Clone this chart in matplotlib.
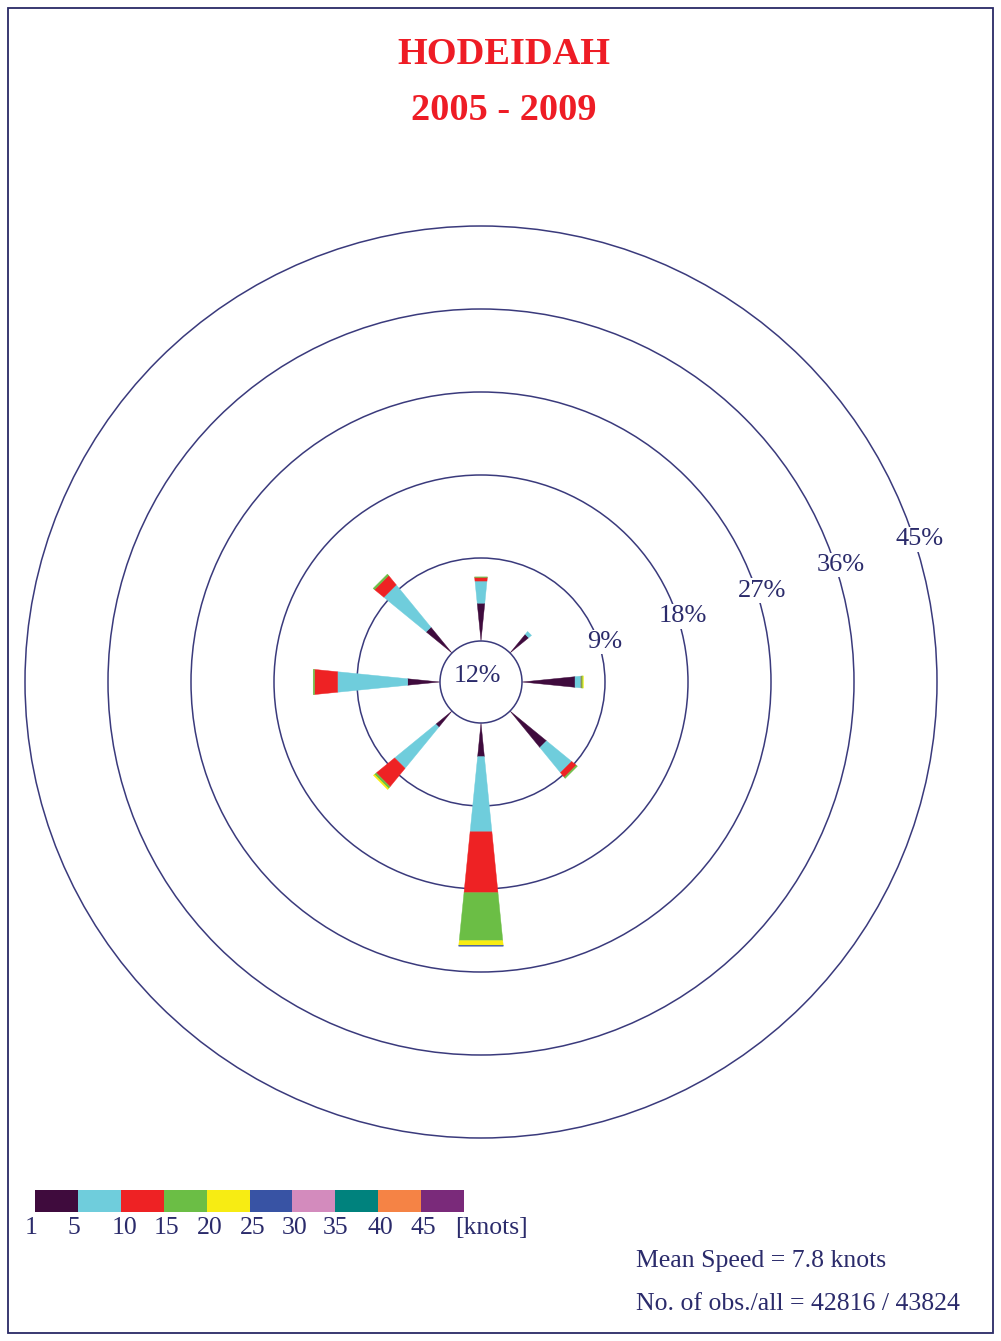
import numpy as np
import matplotlib
matplotlib.use("Agg")
import matplotlib.pyplot as plt
from matplotlib.patches import Polygon, Circle, Rectangle

# ---------------- data ----------------
directions = ["N", "NE", "E", "SE", "S", "SW", "W", "NW"]
dir_angles = [0, 45, 90, 135, 180, 225, 270, 315]   # compass degrees
speed_labels = ["1", "5", "10", "15", "20", "25", "30", "35", "40", "45"]
speed_colors = ["#3f0b3d", "#6fcddc", "#ee2224", "#6bbe45", "#f7ec13",
                "#3853a4", "#d38bbd", "#00827d", "#f58345", "#7a2a7a"]
# percent frequency per speed bin, per direction (N, NE, E, SE, S, SW, W, NW)
bin_1_5   = [4.1, 2.6, 5.75, 5.1, 3.65, 2.26, 3.5, 3.6]
bin_5_10  = [2.4, 0.4, 0.65, 3.5, 8.15, 5.74, 7.6, 5.9]
bin_10_15 = [0.4, 0.0, 0.05, 0.65, 6.6, 2.56, 2.5, 1.3]
bin_15_20 = [0.05, 0.0, 0.15, 0.15, 5.2, 0.25, 0.15, 0.2]
bin_20_25 = [0.0, 0.0, 0.05, 0.0, 0.5, 0.15, 0.0, 0.0]
bin_25_30 = [0.0, 0.0, 0.0, 0.0, 0.1, 0.0, 0.0, 0.0]
bins = [bin_1_5, bin_5_10, bin_10_15, bin_15_20, bin_20_25, bin_25_30]
calm_pct = 12
ring_values = [9, 18, 27, 36, 45]
title_station = "HODEIDAH"
title_years = "2005 - 2009"
mean_speed_text = "Mean Speed = 7.8 knots"
obs_text = "No. of obs./all = 42816 / 43824"

# ---------------- layout ----------------
W, H = 1001, 1341
fig = plt.figure(figsize=(W / 100, H / 100), dpi=100)
cx_px, cy_px = 481, 682          # centre of the rose in pixels (from top)
px_per_unit = 83 / 9.0           # pixels per percent
calm_r = 41 / px_per_unit        # calm circle radius in percent units
half_w = 0.1                     # half width of petal per unit of length

ax = fig.add_axes([0, 0, 1, 1])
ax.set_xlim(-cx_px / px_per_unit, (W - cx_px) / px_per_unit)
ax.set_ylim(-(H - cy_px) / px_per_unit, cy_px / px_per_unit)
ax.set_aspect("equal")
ax.axis("off")

ring_color = "#3a3a7c"
text_color = "#2b2b6b"
serif = ["Liberation Serif", "DejaVu Serif"]

# rings
for v in ring_values:
    ax.add_patch(Circle((0, 0), calm_r + v, fill=False, ec=ring_color, lw=1.1, zorder=1))

# petals
for i, ang in enumerate(dir_angles):
    t = np.deg2rad(ang)
    u = np.array([np.sin(t), np.cos(t)])
    n = np.array([np.cos(t), -np.sin(t)])
    start = 0.0
    for b, col in zip(bins, speed_colors):
        val = b[i]
        if val <= 0:
            continue
        a, e = start, start + val
        pts = [u * (calm_r + a) + n * half_w * a,
               u * (calm_r + e) + n * half_w * e,
               u * (calm_r + e) - n * half_w * e,
               u * (calm_r + a) - n * half_w * a]
        ax.add_patch(Polygon(pts, closed=True, fc=col, ec=col, lw=0.3, zorder=2))
        start = e

# calm circle
ax.add_patch(Circle((0, 0), calm_r, fc="white", ec=ring_color, lw=1.1, zorder=3))
ax.text(-0.4, 0.6, f"{calm_pct}%", ha="center", va="center", fontsize=18.7,
        family=serif, color=text_color, zorder=4)

# ring labels
lab_ang = np.deg2rad(18)
for v in ring_values:
    r = calm_r + v + 0.6
    ax.text(r * np.cos(lab_ang), r * np.sin(lab_ang), f"{v}%", ha="center", va="center",
            fontsize=19, family=serif, color=text_color, zorder=5,
            bbox=dict(boxstyle="square,pad=0.05", fc="white", ec="none"))

# title
fig.text(504 / W, 1 - 55 / H, title_station, ha="center", va="center", fontsize=27.6,
         fontweight="bold", family=serif, color="#ee1c25")
fig.text(504 / W, 1 - 110 / H, title_years, ha="center", va="center", fontsize=27.6,
         fontweight="bold", family=serif, color="#ee1c25")

# legend colour bar
x0, bw, ytop, bh = 35, 42.9, 1190, 21.5
for k, col in enumerate(speed_colors):
    fig.patches.append(Rectangle(((x0 + k * bw) / W, 1 - (ytop + bh) / H), bw / W, bh / H,
                                 transform=fig.transFigure, fc=col, ec="none"))
lab_offsets = [-4, -4, 4, 3, 3, 3, 2, 0, 2, 2]
for k, lab in enumerate(speed_labels):
    fig.text((x0 + k * bw + lab_offsets[k]) / W, 1 - 1228 / H, lab, ha="center", va="center",
             fontsize=18.5, family=serif, color=text_color)
fig.text(455 / W, 1 - 1228 / H, "[knots]", ha="left", va="center",
         fontsize=18.5, family=serif, color=text_color)

# statistics text
fig.text(636 / W, 1 - 1261 / H, mean_speed_text, ha="left", va="center",
         fontsize=18.5, family=serif, color=text_color)
fig.text(636 / W, 1 - 1304 / H, obs_text, ha="left", va="center",
         fontsize=18.5, family=serif, color=text_color)

# frame
fig.patches.append(Rectangle((7.5 / W, 1 - 1333 / H), 985.5 / W, 1325.5 / H,
                             transform=fig.transFigure, fill=False, ec="#2a2a66", lw=1.3))

fig.savefig("out.png", dpi=100)
